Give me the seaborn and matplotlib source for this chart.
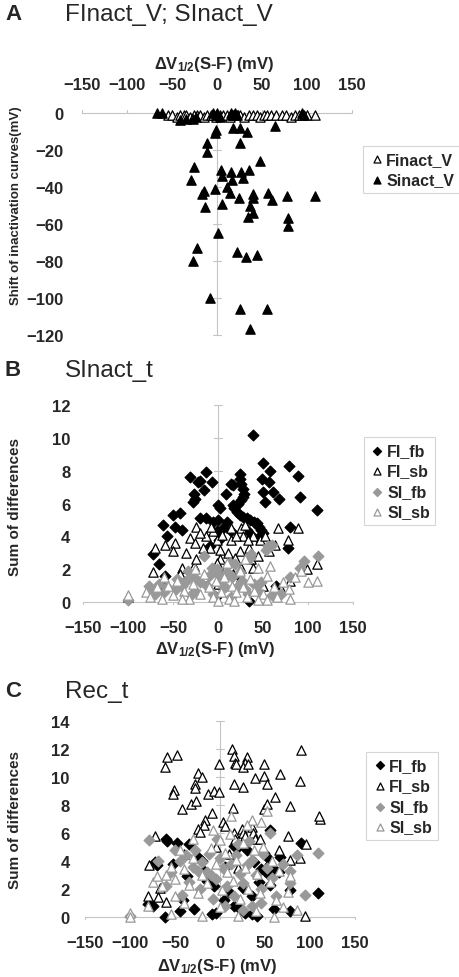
import numpy as np
import matplotlib
matplotlib.use("Agg")
import matplotlib.pyplot as plt
import seaborn as sns

# ---- panel A: FInact_V; SInact_V ----
finact_x = [-55, -50, -45, -41, -37, -34, -30, -26, -22, -19, -15, -11, -7, -4, -1, 0, 3, 7,
            11, 14, 17, 20, 23, 26, 30, 35, 40, 44, 48, 52, 55, 60, 66, 72, 77, 82, 87, 91,
            94, 100, 109]
finact_y = [-1, -1, -2, -1, -1, -1, -2, -1, -1, -1, -2, -1, -1, -1, -2, -1, -1, -1,
            -1, -2, -1, -1, -1, -1, -2, -1, -1, -1, -2, -1, -1, -1, -1, -1, -1, -2, -1, -1,
            -1, -1, -1]
sinact_x = [-67, -61, -41, -34, -27, -23, -4, -1, 0, 3, 16, 18, 20, 22, 94, 97, 64, -1, -2, 18,
            25, 33, -11, -11, 25, 48, -26, -29, 4, 6, 15, 17, 27, 35, 29, -2, 11, 14, -17, -14,
            24, 6, -13, 40, 40, 57, 61, 78, 109, 37, 40, 34, 79, 79, 1, -22, -27, 22, 32, 44,
            -8, 26, 56, 37]
sinact_y = [0, 0, -4, -3, -3, -2, 0, -1, 0, -2, 0, -1, 0, -1, 0, -1, -7, -9, -11, -8,
            -8, -10, -16, -21, -16, -26, -29, -36, -31, -34, -32, -36, -32, -31, -35, -41, -40, -43, -44, -42,
            -46, -49, -51, -44, -46, -43, -47, -45, -45, -50, -54, -56, -57, -61, -65, -73, -80, -75, -78, -77,
            -100, -106, -106, -117]

# ---- panel B: SInact_t ----
b_fi_fb = [(-31, 7.6), (-20, 7.4), (-13, 7.9), (-7, 7.3), (-22, 7.3), (-16, 6.8), (-27, 6.6), (-28, 6.1),
           (-26, 6.3), (9, 6.6), (17, 7.1), (15, 7.2), (0, 5.9), (2, 5.7), (-50, 5.3), (-42, 5.4),
           (-61, 4.7), (-48, 4.6), (-40, 4.4), (-57, 4.0), (-72, 2.9), (-66, 2.3), (-59, 1.6), (-13, 5.1),
           (-5, 4.9), (0, 5.0), (10, 4.9), (-1, 4.3), (1, 3.8), (-9, 3.4), (24, 7.8), (25, 7.5),
           (26, 7.2), (28, 6.9), (29, 6.6), (28, 6.4), (26, 6.2), (22, 6.0), (17, 5.9), (18, 5.7),
           (21, 5.5), (24, 5.3), (28, 5.2), (32, 5.1), (36, 5.0), (40, 4.9), (43, 4.8), (46, 4.6),
           (48, 4.4), (50, 4.2), (39, 10.2), (50, 8.5), (58, 8.0), (79, 8.3), (89, 7.7), (49, 7.5),
           (57, 7.3), (50, 6.7), (61, 6.7), (68, 6.3), (52, 6.1), (91, 6.4), (110, 5.6), (80, 4.6),
           (78, 3.3), (65, 1.0), (-20, 5.1), (6, 4.5), (14, 4.3), (32, 4.4), (38, 4.0), (44, 3.9),
           (35, 0.05), (-2, 0.3)]
b_fi_sb = [(-24, 4.6), (-13, 4.0), (-20, 4.2), (-31, 3.9), (-26, 3.6), (-59, 3.5), (-48, 3.6), (-50, 3.1),
           (-70, 3.3), (-5, 4.3), (-1, 3.8), (-9, 3.3), (2, 3.2), (11, 3.0), (2, 2.6), (-1, 2.4),
           (15, 4.5), (26, 4.5), (28, 4.0), (15, 3.8), (39, 4.0), (47, 3.8), (52, 4.0), (63, 3.5),
           (67, 4.5), (78, 3.8), (89, 4.5), (34, 3.3), (24, 3.1), (19, 2.7), (37, 2.6), (39, 2.1),
           (-40, 2.1), (-27, 2.2), (-72, 1.8), (-42, 1.7), (-24, 2.6), (26, 2.1), (17, 1.7), (26, 1.5),
           (110, 2.3), (99, 2.0), (80, 1.3), (-8, 4.6), (5, 4.1), (20, 4.0), (33, 3.8), (-17, 3.3),
           (-35, 3.0), (8, 2.0), (-15, 1.5), (45, 2.8), (57, 3.1), (30, 4.7), (-100, 0.3), (70, 0.8),
           (50, 1.0), (-60, 0.9), (0, 1.1)]
b_si_fb = [(-100, 0.1), (-77, 1.0), (-74, 0.8), (-66, 1.1), (-57, 0.9), (-47, 0.8), (-40, 1.0), (-33, 1.9),
           (-27, 1.5), (-20, 1.2), (-16, 2.8), (-12, 1.0), (-7, 2.1), (-1, 2.0), (0, 1.7), (5, 1.4),
           (8, 0.9), (13, 2.4), (19, 2.3), (22, 1.0), (27, 1.3), (30, 0.8), (37, 2.9), (36, 2.7),
           (40, 1.1), (45, 0.7), (56, 3.4), (60, 3.5), (53, 3.2), (80, 1.5), (91, 2.1), (95, 2.5),
           (111, 2.8), (-60, 0.6), (-30, 0.4), (-5, 0.5), (15, 0.3), (33, 0.5), (60, 0.4), (-45, 1.4),
           (10, 1.8), (-25, 0.7), (3, 1.1), (25, 1.8), (-10, 1.6), (48, 1.2), (70, 0.5), (-70, 0.5),
           (-35, 1.3), (16, 1.5)]
b_si_sb = [(-100, 0.4), (-80, 0.6), (-75, 0.3), (-68, 0.9), (-62, 0.2), (-55, 1.0), (-50, 0.4), (-45, 1.3),
           (-38, 0.7), (-32, 0.2), (-28, 1.1), (-20, 0.5), (-15, 1.7), (-10, 0.9), (-5, 0.3), (-2, 1.3),
           (3, 0.6), (7, 1.5), (12, 0.2), (16, 1.0), (20, 0.6), (24, 1.9), (28, 0.9), (32, 0.3),
           (36, 1.4), (40, 0.7), (44, 2.1), (50, 0.5), (55, 1.6), (58, 2.2), (62, 0.9), (66, 0.3),
           (72, 1.2), (79, 0.8), (86, 1.5), (92, 1.9), (100, 1.2), (110, 1.3), (0, 0.05), (18, 0.05),
           (-40, 0.2), (45, 0.1), (-25, 2.0), (10, 2.4), (30, 2.6), (-60, 1.5), (80, 0.2), (55, 0.1)]

# ---- panel C: Rec_t ----
c_fi_fb = [(-60, 5.6), (-59, 5.4), (-48, 5.3), (-70, 3.7), (-72, 3.9), (56, 6.2), (15, 5.1), (19, 4.9),
           (49, 4.6), (52, 4.3), (55, 3.8), (59, 3.3), (65, 3.2), (50, 3.3), (54, 3.0), (67, 4.3),
           (56, 2.3), (90, 5.3), (78, 1.9), (109, 1.7), (78, 0.4), (-80, 0.9), (-41, 1.2), (-29, 0.6),
           (-52, 3.8), (-37, 2.9), (-15, 2.6), (-7, 2.2), (4, 1.2), (-4, 0.3), (-9, 0.2), (15, 0.8),
           (28, 0.3), (35, 0.2), (41, 0.1), (43, 2.5), (26, 2.1), (-18, 3.3), (-13, 3.1), (-61, 0.0),
           (22, 0.6), (-35, 5.2), (-20, 4.0), (5, 3.6), (30, 4.8), (38, 3.9), (45, 3.4), (62, 3.3),
           (-75, 0.8), (10, 1.8), (-45, 0.4), (-25, 4.3), (60, 0.6), (35, 1.5)]
c_fi_sb = [(-59, 11.4), (-48, 11.6), (-61, 10.7), (13, 12.0), (15, 11.5), (17, 11.0), (18, 10.9), (30, 11.4),
           (28, 11.0), (26, 10.7), (31, 10.9), (-1, 10.9), (49, 10.9), (49, 10.1), (67, 10.2), (90, 11.9),
           (89, 9.7), (-25, 10.3), (-20, 10.0), (39, 9.9), (52, 9.5), (15, 9.5), (25, 9.3), (-28, 9.5),
           (-28, 9.2), (-51, 9.1), (-52, 8.8), (-13, 8.8), (-7, 9.0), (-1, 8.9), (61, 8.6), (-32, 8.1),
           (-27, 8.3), (-42, 7.7), (14, 7.8), (78, 7.9), (49, 7.7), (52, 8.1), (-9, 7.4), (-17, 6.9),
           (-18, 6.6), (3, 6.8), (6, 6.5), (-24, 6.3), (-22, 6.1), (24, 6.3), (26, 6.0), (35, 6.4),
           (37, 6.0), (28, 5.8), (39, 5.6), (15, 6.0), (17, 5.6), (-72, 5.8), (44, 5.6), (76, 5.8),
           (65, 4.8), (78, 4.1), (96, 5.2), (89, 4.2), (-80, 1.5), (-67, 2.1), (-69, 1.4), (-60, 1.1),
           (94, 0.1), (-79, 3.7), (111, 7.0), (110, 7.2), (-5, 5.0), (10, 4.5), (-40, 4.5), (20, 3.5)]
c_si_fb = [(-79, 5.5), (-69, 4.0), (55, 6.0), (94, 1.6), (109, 4.6), (78, 3.3), (78, 2.4), (-50, 4.8),
           (-45, 4.0), (-38, 4.4), (-30, 3.6), (-25, 3.3), (-20, 3.9), (-15, 3.2), (-10, 3.0), (-5, 2.7),
           (0, 4.2), (3, 3.5), (8, 2.2), (12, 3.8), (18, 4.4), (22, 3.1), (26, 2.4), (30, 3.7),
           (35, 4.1), (40, 3.0), (45, 2.0), (48, 4.5), (52, 3.5), (58, 2.8), (62, 1.5), (-35, 2.5),
           (-55, 3.2), (-60, 2.2), (-42, 1.6), (-22, 2.0), (-8, 1.3), (5, 0.8), (15, 1.5), (25, 0.5),
           (35, 0.8), (45, 1.0), (-28, 4.8), (-12, 4.5), (20, 5.2), (32, 5.4), (-3, 5.6), (70, 3.8),
           (86, 4.4), (-100, 0.1)]
c_si_sb = [(-100, 0.3), (-100, 0.0), (-75, 2.5), (-70, 2.9), (-65, 2.2), (-60, 3.0), (-55, 3.6), (-50, 2.7),
           (-45, 4.8), (-40, 3.4), (-35, 2.3), (-30, 4.2), (-25, 1.7), (-20, 3.0), (-15, 2.4), (-10, 4.9),
           (-5, 3.8), (0, 5.5), (2, 1.9), (5, 4.6), (8, 3.2), (11, 5.9), (14, 2.6), (18, 4.1),
           (22, 1.3), (25, 5.3), (28, 3.5), (31, 2.0), (35, 6.9), (38, 4.8), (41, 3.1), (44, 1.7),
           (48, 5.0), (52, 7.6), (55, 2.5), (58, 4.0), (62, 1.2), (66, 3.3), (70, 0.7), (75, 1.8),
           (78, 2.9), (85, 0.5), (-80, 0.8), (-55, 0.2), (-40, 1.0), (-20, 0.1), (0, 0.7), (20, 0.1),
           (40, 0.4), (60, 0.0), (-30, 5.6), (-8, 6.2), (12, 7.2), (30, 6.6), (45, 6.8), (-50, 1.5)]

x_ticks = [-150, -100, -50, 0, 50, 100, 150]
xlabel = r"ΔV$_{1/2}$(S-F) (mV)"

sns.set_theme(style="white")
plt.rcParams["font.family"] = ["Liberation Sans", "DejaVu Sans"]
plt.rcParams["font.weight"] = "bold"
plt.rcParams["mathtext.fontset"] = "custom"
plt.rcParams["mathtext.rm"] = "Liberation Sans:bold"
plt.rcParams["mathtext.default"] = "rm"

GRID = "#c4c4c4"
GRAY = "#999999"

fig = plt.figure(figsize=(4.6, 9.78), dpi=100)
axA = fig.add_axes([0.1783, 0.6564, 0.587, 0.2270])
axB = fig.add_axes([0.1804, 0.3834, 0.587, 0.2014])
axC = fig.add_axes([0.1848, 0.0613, 0.587, 0.2004])


def style_axes(ax, ylim, yticks, top=False):
    ax.set_xlim(-150, 150)
    ax.set_ylim(*ylim)
    for s in ax.spines.values():
        s.set_visible(False)
    ax.set_facecolor("none")
    # excel style axes crossing at zero
    ax.plot([-150, 150], [0, 0], color=GRID, lw=0.8, zorder=0, clip_on=False)
    ax.plot([0, 0], list(ylim), color=GRID, lw=0.8, zorder=0, clip_on=False)
    span = ylim[1] - ylim[0]
    tick_dir = 1 if top else -1
    for xv in x_ticks:
        ax.plot([xv, xv], [0, tick_dir * span * 0.012], color=GRID, lw=0.8, zorder=0, clip_on=False)
    for yv in yticks:
        ax.plot([-4, 4], [yv, yv], color=GRID, lw=0.8, zorder=0, clip_on=False)
    ax.set_xticks(x_ticks)
    ax.set_yticks(yticks)
    ax.tick_params(length=0, labelsize=12)
    if top:
        ax.xaxis.tick_top()
        ax.xaxis.set_label_position("top")


def scatter(ax, pts, marker, face, edge, s, label):
    xs = [p[0] for p in pts]
    ys = [p[1] for p in pts]
    sns.scatterplot(x=xs, y=ys, ax=ax, marker=marker, color=face, edgecolor=edge,
                    linewidth=0.9, s=s, label=label, clip_on=False, zorder=3)


def add_legend(ax, x, y):
    leg = ax.legend(loc="upper left", bbox_to_anchor=(x, y), bbox_transform=fig.transFigure,
                    fancybox=False, frameon=True, edgecolor="#cccccc", fontsize=11.5,
                    handletextpad=0.1, borderpad=0.35, labelspacing=0.35, handlelength=1.0,
                    markerscale=0.75, borderaxespad=0)
    leg.get_frame().set_linewidth(0.8)


# panel A
style_axes(axA, (-120, 0), [0, -20, -40, -60, -80, -100, -120], top=True)
sns.scatterplot(x=finact_x, y=finact_y, ax=axA, marker="^", color="white", edgecolor="black",
                linewidth=0.9, s=45, label="Finact_V", clip_on=False, zorder=3)
sns.scatterplot(x=sinact_x, y=sinact_y, ax=axA, marker="^", color="black", edgecolor="black",
                linewidth=0.9, s=45, label="Sinact_V", clip_on=False, zorder=3)
axA.tick_params(axis="x", pad=15)
axA.tick_params(axis="y", pad=13)
axA.set_xlabel(xlabel, fontsize=12, fontweight="bold")
axA.xaxis.set_label_coords(0.49, 1.205)
axA.set_ylabel("Shift of inactivation curves(mV)", fontsize=9.5, fontweight="bold")
axA.yaxis.set_label_coords(-0.222, 0.585)
add_legend(axA, 0.789, 0.8497)

# panel B and C
for ax, data, ylim, yticks in [
    (axB, (b_fi_fb, b_fi_sb, b_si_fb, b_si_sb), (0, 12), list(range(0, 13, 2))),
    (axC, (c_fi_fb, c_fi_sb, c_si_fb, c_si_sb), (0, 14), list(range(0, 15, 2))),
]:
    style_axes(ax, ylim, yticks)
    scatter(ax, data[0], "D", "black", "black", 30, "FI_fb")
    scatter(ax, data[1], "^", "white", "black", 45, "FI_sb")
    scatter(ax, data[2], "D", GRAY, GRAY, 30, "SI_fb")
    scatter(ax, data[3], "^", "white", GRAY, 45, "SI_sb")
    ax.tick_params(axis="x", pad=13)
    ax.set_xlabel(xlabel, fontsize=12, fontweight="bold")
    ax.set_ylabel("Sum of differences", fontsize=11, fontweight="bold")

axB.tick_params(axis="y", pad=9)
axB.xaxis.set_label_coords(0.49, -0.19)
axB.yaxis.set_label_coords(-0.226, 0.49)
add_legend(axB, 0.791, 0.552)

axC.tick_params(axis="y", pad=11)
axC.xaxis.set_label_coords(0.49, -0.20)
axC.yaxis.set_label_coords(-0.233, 0.5)
add_legend(axC, 0.796, 0.230)

# panel titles
for letter, title, ypix in [("A", "FInact_V; SInact_V", 15), ("B", "SInact_t", 371), ("C", "Rec_t", 692)]:
    fig.text(5 / 460, 1 - ypix / 978, letter, fontsize=16, fontweight="bold", va="center", ha="left")
    fig.text(65 / 460, 1 - ypix / 978, title, fontsize=17.5, fontweight="normal", va="center", ha="left")

fig.savefig("out.png", dpi=100)
